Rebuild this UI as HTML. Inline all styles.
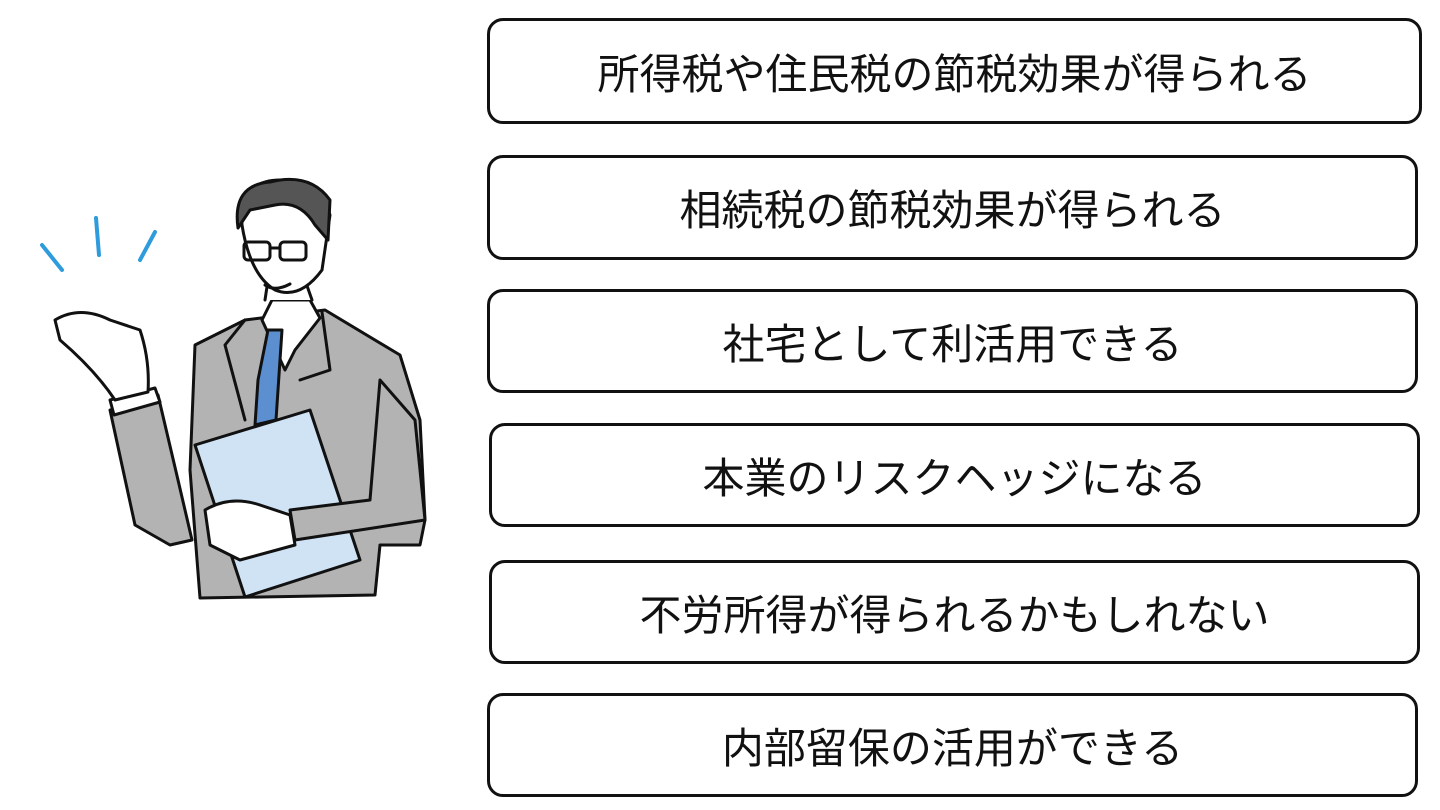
<!DOCTYPE html>
<html><head><meta charset="utf-8"><style>
html,body{margin:0;padding:0;background:#fff;}
body{width:1440px;height:810px;position:relative;overflow:hidden;font-family:"Liberation Sans","Noto Sans CJK JP",sans-serif;}
.b{position:absolute;box-sizing:border-box;border:3px solid #111;border-radius:16px;display:flex;align-items:center;justify-content:center;font-size:42px;color:#111;letter-spacing:0px;}
svg{position:absolute;left:0;top:0;}
</style></head><body>
<svg width="480" height="620" viewBox="0 0 480 620">
 <g stroke="#111" stroke-width="3" stroke-linecap="round" stroke-linejoin="round">
  <path d="M195,345 L245,320 L325,310 L400,355 L420,420 L425,520 L420,545 L380,545 L375,595 L200,598 L190,470 Z" fill="#b3b3b3"/>
  <path d="M262,320 L272,300 L310,300 L320,318 L295,350 L285,370 Z" fill="#fff"/>
  <path d="M268,330 L282,330 L276,420 L255,425 L258,380 Z" fill="#5b8fd0"/>
  <path d="M245,320 L225,345 L245,420" fill="none"/>
  <path d="M322,312 L330,370 L300,380" fill="none"/>
  <path d="M110,410 L158,395 L178,480 L192,540 L170,545 L135,525 Z" fill="#b3b3b3"/>
  <path d="M110,400 L155,388 L160,402 L114,415 Z" fill="#fff"/>
  <path d="M55,320 Q80,305 110,320 L140,330 Q150,360 148,392 L115,400 Q95,370 60,340 Z" fill="#fff"/>
  <path d="M195,445 L310,410 L360,560 L245,597 Z" fill="#cfe3f5"/>
  <path d="M380,380 L415,420 L425,520 L295,540 L290,510 L370,500 Z" fill="#b3b3b3"/>
  <path d="M205,510 Q230,495 260,505 L290,515 L295,545 L240,560 L210,545 Z" fill="#fff"/>
  <path d="M265,300 L268,280 L305,280 L312,300" fill="#fff"/>
  <path d="M242,225 Q240,180 280,180 Q320,180 330,215 L322,270 Q300,300 275,290 Q250,275 242,225 Z" fill="#fff"/>
  <path d="M238,228 Q232,185 270,182 Q310,172 330,200 L328,240 L315,225 Q300,200 275,205 L250,210 Z" fill="#555"/>
  <rect x="244" y="242" width="26" height="18" rx="4" fill="none"/>
  <rect x="280" y="242" width="26" height="18" rx="4" fill="none"/>
  <line x1="270" y1="248" x2="280" y2="248"/>
  <path d="M265,285 Q275,292 290,284" fill="none"/>
 </g>
 <g stroke="#2e9bdc" stroke-width="4" stroke-linecap="round">
  <line x1="42" y1="245" x2="62" y2="270"/>
  <line x1="96" y1="218" x2="99" y2="255"/>
  <line x1="155" y1="232" x2="140" y2="260"/>
 </g>
</svg>
<div class="b" style="left:487px;top:18px;width:935px;height:106px;">所得税や住民税の節税効果が得られる</div>
<div class="b" style="left:487px;top:155px;width:931px;height:105px;">相続税の節税効果が得られる</div>
<div class="b" style="left:487px;top:289px;width:931px;height:104px;">社宅として利活用できる</div>
<div class="b" style="left:489px;top:423px;width:931px;height:104px;">本業のリスクヘッジになる</div>
<div class="b" style="left:489px;top:560px;width:931px;height:104px;">不労所得が得られるかもしれない</div>
<div class="b" style="left:487px;top:693px;width:931px;height:104px;">内部留保の活用ができる</div>
</body></html>
